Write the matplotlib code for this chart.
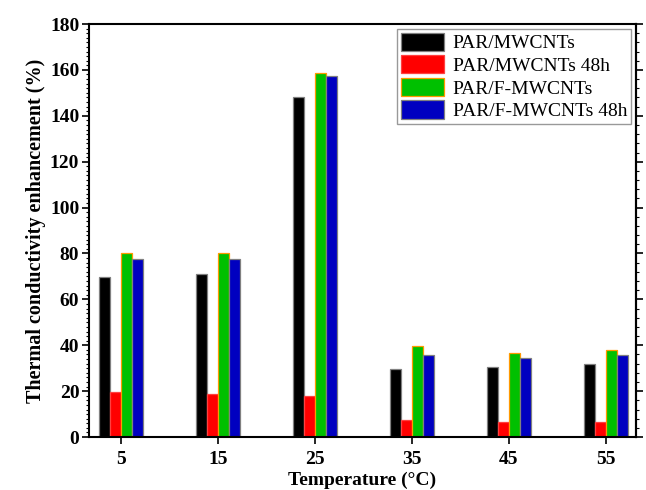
import numpy as np
import matplotlib
matplotlib.use('Agg')
import matplotlib.pyplot as plt
from matplotlib.ticker import MultipleLocator

plt.rcParams['font.family'] = ['Liberation Serif', 'DejaVu Serif']

# data
temps = [5, 15, 25, 35, 45, 55]
par_mwcnt = [69.7, 71.0, 148.4, 29.6, 30.5, 31.8]
par_mwcnt_48h = [19.6, 18.7, 17.9, 7.4, 6.5, 6.5]
par_fmwcnt = [80.0, 80.2, 158.5, 39.6, 36.8, 37.9]
par_fmwcnt_48h = [77.6, 77.6, 157.5, 35.7, 34.4, 35.7]

labels = ['PAR/MWCNTs', 'PAR/MWCNTs 48h', 'PAR/F-MWCNTs', 'PAR/F-MWCNTs 48h']
colors = ['#000000', '#ff0000', '#00c000', '#0000c0']
edges = ['#808080', '#ff4040', '#ff9900', '#808080']

fig = plt.figure(figsize=(6.46, 4.9), dpi=100)
ax = fig.add_axes([0.1378, 0.108, 0.8467, 0.843])

x = np.array(temps, dtype=float)
w = 1.13
series = [par_mwcnt, par_mwcnt_48h, par_fmwcnt, par_fmwcnt_48h]
for i, vals in enumerate(series):
    ax.bar(x + (i - 1.5) * w, vals, width=w, color=colors[i], edgecolor=edges[i],
           linewidth=0.9, label=labels[i])

ax.set_xlim(1.7, 58.1)
ax.set_ylim(0, 180)
ax.set_xticks(temps)
ax.set_xticklabels([str(t) for t in temps], fontweight='bold', fontsize=14)
ax.yaxis.set_major_locator(MultipleLocator(20))
ax.yaxis.set_minor_locator(MultipleLocator(2))
for lab in ax.get_yticklabels():
    lab.set_fontweight('bold')
    lab.set_fontsize(14)
ax.tick_params(axis='y', which='major', direction='out', length=5, width=1.2, pad=2)
ax.tick_params(axis='y', which='minor', direction='out', length=2.5, width=0.8)
ax.tick_params(axis='x', which='major', direction='out', length=5, width=1.2, pad=5)

sec = ax.secondary_yaxis('right')
sec.yaxis.set_major_locator(MultipleLocator(20))
sec.yaxis.set_minor_locator(MultipleLocator(4))
sec.tick_params(which='major', direction='out', length=5, width=1.2, labelright=False)
sec.tick_params(which='minor', direction='out', length=2.5, width=0.8)

for s in ax.spines.values():
    s.set_linewidth(1.5)
sec.spines['right'].set_linewidth(1.5)

ax.set_ylabel('Thermal conductivity enhancement (%)', fontweight='bold', fontsize=14.5,
              labelpad=3)
ax.set_xlabel('Temperature (\u00b0C)', fontweight='bold', fontsize=14, labelpad=3)

leg = ax.legend(loc='upper right', fontsize=14, handlelength=2.2, handleheight=1.05,
                labelspacing=0.15, handletextpad=0.45, borderpad=0.2,
                borderaxespad=0.25, fancybox=False, edgecolor='#808080')
leg.get_frame().set_linewidth(1.0)

fig.savefig('out.png', dpi=100)
